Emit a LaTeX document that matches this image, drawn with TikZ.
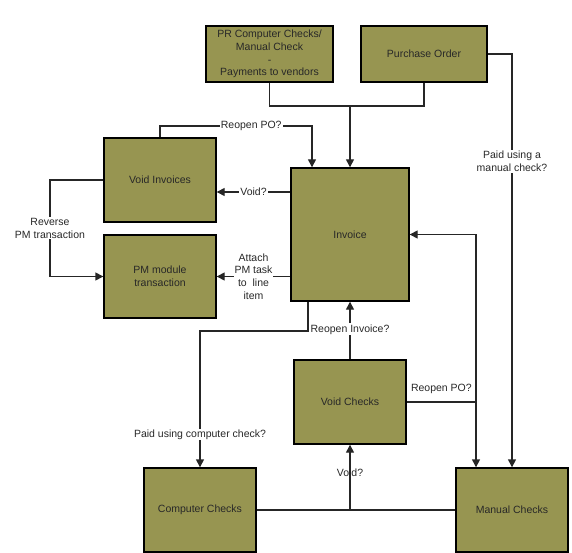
\documentclass[tikz,border=0pt]{standalone}
\usepackage{fontspec}
\setmainfont{Liberation Sans}
\usetikzlibrary{arrows.meta,calc}
\definecolor{olivebox}{RGB}{151,149,81}
\definecolor{linec}{RGB}{38,38,38}
\definecolor{textc}{RGB}{40,40,40}
\begin{document}
\begin{tikzpicture}[x=1pt,y=-1pt,
  font=\fontsize{10.5}{12.7}\selectfont,
  box/.style={draw=black,line width=1.4pt,fill=olivebox,text=textc,align=center,inner sep=0pt},
  conn/.style={draw=linec,line width=1.4pt},
  arr/.style={conn,-{Triangle[length=8pt,width=8pt]}},
  lab/.style={fill=white,text=textc,align=center,inner sep=1pt},
  labnf/.style={text=textc,align=center,inner sep=1pt}]
\useasboundingbox (0,0) rectangle (572,553);
% boxes
\node[box,minimum width=127pt,minimum height=56pt] (PR) at (269.5,54) {PR Computer Checks/\\Manual Check\\-\\Payments to vendors};
\node[box,minimum width=126pt,minimum height=56pt] (PO) at (424,54) {Purchase Order};
\node[box,minimum width=118pt,minimum height=133pt] (Inv) at (350,234.5) {Invoice};
\node[box,minimum width=112pt,minimum height=84pt] (VI) at (160,180) {Void Invoices};
\node[box,minimum width=112pt,minimum height=83pt] (PM) at (160,276.5) {PM module\\transaction};
\node[box,minimum width=112pt,minimum height=84pt] (VC) at (350,402) {Void Checks};
\node[box,minimum width=112pt,minimum height=84pt] (CC) at (200,510) {Computer Checks};
\node[box,minimum width=112pt,minimum height=84pt] (MC) at (512,510) {Manual Checks};
% junction coordinates
\coordinate (j1) at (350,106);
\coordinate (rp) at (312,126);
\coordinate (rv) at (50,228);
\coordinate (ic) at (200,331);
\coordinate (rj) at (476,402);
% connectors
\draw[conn] (PR.south) |- (j1);
\draw[conn] (PO.south) |- (j1);
\draw[arr] (j1) -- (Inv.north);
\draw[arr] (VI.north) |- node[lab,pos=0.8]{Reopen PO?} (rp) -- (rp |- Inv.north);
\draw[arr] ([yshift=42.5pt]Inv.west) -- node[lab]{Void?} ([yshift=42.5pt]Inv.west -| VI.east);
\draw[arr] (Inv.west |- PM.east) -- node[lab]{Attach\\PM task\\to\ \ line\\item} (PM.east);
\draw[arr] (VI.west) -- (VI.west -| rv) -- node[lab]{Reverse\\PM transaction} (PM.west -| rv) -- (PM.west);
\draw[arr] ([xshift=-42pt]Inv.south) |- (ic) -- node[lab,pos=0.76]{Paid using computer check?} (CC.north);
\draw[arr] (VC.north) -- node[lab,pos=0.52]{Reopen Invoice?} (Inv.south);
\draw[conn] (VC.east) -- node[labnf,above=7pt]{Reopen PO?} (rj);
\draw[arr] (rj) |- (Inv.east);
\draw[arr] (rj) -- (rj |- MC.north);
\draw[arr] (PO.east) -| node[lab,pos=0.63]{Paid using a\\manual check?} (MC.north);
\draw[conn] (CC.east) -- (MC.west);
\node[labnf] (vd) at (350,473) {Void?};
\draw[arr] (CC.east -| VC.south) -- (VC.south);
\end{tikzpicture}
\end{document}
